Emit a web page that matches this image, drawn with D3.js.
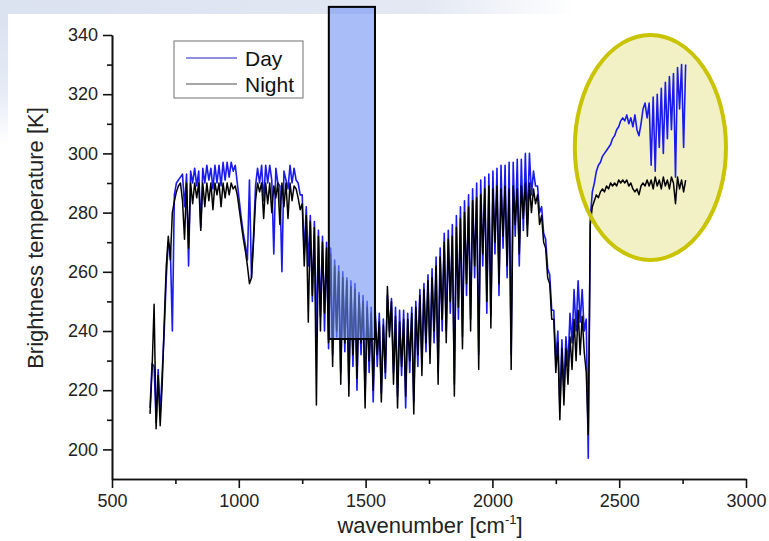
<!DOCTYPE html>
<html>
<head>
<meta charset="utf-8">
<script src="https://cdn.jsdelivr.net/npm/d3@7"></script>
<style>
  html, body { margin: 0; padding: 0; background: #fff; }
  svg { display: block; font-family: "Liberation Sans", Arial, sans-serif; }
</style>
</head>
<body>
<svg id="chart" width="769" height="541"></svg>
<script>
// Brightness temperature spectrum, sampled every 8 cm^-1
const wavenumber = [
  650,658,666,674,682,690,698,706,714,722,
  730,738,746,754,762,770,778,786,794,802,
  810,818,826,834,842,850,858,866,874,882,
  890,898,906,914,922,930,938,946,954,962,
  970,978,986,994,1002,1010,1018,1026,1034,1042,
  1050,1058,1066,1074,1082,1090,1098,1106,1114,1122,
  1130,1138,1146,1154,1162,1170,1178,1186,1194,1202,
  1210,1218,1226,1234,1242,1250,1258,1266,1274,1282,
  1290,1298,1306,1314,1322,1330,1338,1346,1354,1362,
  1370,1378,1386,1394,1402,1410,1418,1426,1434,1442,
  1450,1458,1466,1474,1482,1490,1498,1506,1514,1522,
  1530,1538,1546,1554,1562,1570,1578,1586,1594,1602,
  1610,1618,1626,1634,1642,1650,1658,1666,1674,1682,
  1690,1698,1706,1714,1722,1730,1738,1746,1754,1762,
  1770,1778,1786,1794,1802,1810,1818,1826,1834,1842,
  1850,1858,1866,1874,1882,1890,1898,1906,1914,1922,
  1930,1938,1946,1954,1962,1970,1978,1986,1994,2002,
  2010,2018,2026,2034,2042,2050,2058,2066,2074,2082,
  2090,2098,2106,2114,2122,2130,2138,2146,2154,2162,
  2170,2178,2186,2194,2202,2210,2218,2226,2234,2242,
  2250,2258,2266,2274,2282,2290,2298,2306,2314,2322,
  2330,2338,2346,2354,2362,2370,2378,2386,2394,2402,
  2410,2418,2426,2434,2442,2450,2458,2466,2474,2482,
  2490,2498,2506,2514,2522,2530,2538,2546,2554,2562,
  2570,2578,2586,2594,2602,2610,2618,2626,2634,2642,
  2650,2658,2666,2674,2682,2690,2698,2706,2714,2722,
  2730,2738,2746,2754,2762
];

// Daytime brightness temperature [K]
const dayTemp = [
  214,229,228,209,227,212,226,240,258,270,
  268,240,286,290,291,292,293,282,293,262,
  294,290,295,289,294,275,295,290,296,291,
  295,288,296,290,296,289,297,291,297,292,
  297,294,296,290,284,278,273,269,264,291,
  258,272,289,295,290,296,284,296,290,296,
  291,266,295,290,289,260,294,291,288,296,
  290,295,291,290,286,286,266,282,262,279,
  250,277,238,274,245,272,240,270,234,268,
  232,264,238,262,226,260,233,258,222,257,
  228,256,220,253,232,252,218,250,226,248,
  216,247,228,246,219,244,224,252,240,251,
  226,248,218,247,225,247,214,246,226,248,
  216,250,228,254,230,256,233,259,232,261,
  236,265,226,268,240,273,240,274,246,276,
  222,279,244,282,238,284,252,286,244,288,
  258,290,232,291,262,292,246,293,245,294,
  266,295,252,296,268,296,258,297,232,297,
  272,298,262,298,274,300,276,300,286,294,
  289,289,280,282,273,271,261,259,247,247,
  230,240,214,237,220,238,228,246,236,254,
  240,257,243,254,240,244,197,278,287,290,
  294,296,297,299,300,301,302,303,305,306,
  308,309,311,312,311,313,310,312,309,313,
  308,306,310,315,317,312,317,296,319,294,
  320,302,322,300,324,305,326,308,327,292,
  329,315,330,302,330
];

// Nighttime brightness temperature [K]
const nightTemp = [
  212,227,249,207,225,208,222,243,262,272,
  264,280,284,287,289,290,284,271,290,268,
  290,283,290,285,290,274,290,282,290,284,
  290,281,290,286,290,282,290,285,290,286,
  290,288,289,286,281,276,271,267,262,256,
  258,270,284,290,287,290,278,290,283,290,
  280,289,285,290,276,290,282,290,278,290,
  284,289,288,285,281,283,262,279,243,277,
  252,275,215,272,240,270,246,268,236,266,
  228,262,240,260,222,258,236,257,218,255,
  232,254,224,252,236,250,214,248,230,246,
  220,245,232,243,216,242,226,255,238,250,
  222,245,214,243,228,244,218,244,230,246,
  212,248,232,252,225,254,236,257,229,258,
  240,262,222,265,244,270,236,271,250,272,
  218,275,248,278,234,280,256,282,240,284,
  262,285,227,286,266,288,250,289,241,288,
  270,289,256,288,272,289,262,288,227,289,
  276,288,266,289,278,290,272,290,280,288,
  283,286,276,279,270,268,258,256,244,244,
  226,236,210,234,215,234,222,238,227,244,
  230,247,232,245,233,226,205,276,282,284,
  286,285,287,288,287,289,288,290,289,290,
  289,291,290,291,290,291,289,290,288,287,
  288,286,289,290,289,291,289,291,288,292,
  289,291,288,292,289,291,288,292,290,283,
  292,288,291,287,291
];

const seriesNames = ["Day", "Night"];
const xTicks = [500, 1000, 1500, 2000, 2500, 3000];
const xMinorTicks = [750, 1250, 1750, 2250, 2750];
const yTicks = [200, 220, 240, 260, 280, 300, 320, 340];
const yMinorTicks = [210, 230, 250, 270, 290, 310, 330];

// Highlighted spectral band (cm^-1 and K) and the highlighted CO2 4.3 µm wing
const bandBox = { from: 1355, to: 1537, low: 237.3, high: 349.5 };
const wingOval = { cx: 2623, cy: 302, rw: 298, rt: 38 };

const svg = d3.select("#chart");
const W = 769, H = 541;

const x = d3.scaleLinear().domain([500, 3000]).range([112, 746]);
const y = d3.scaleLinear().domain([190, 340]).range([479, 35]);

// slide background: pale bands along the top and left edges
const defs = svg.append("defs");
const gTop = defs.append("linearGradient").attr("id", "bandTop")
  .attr("x1", 0).attr("x2", 1).attr("y1", 0).attr("y2", 0);
gTop.append("stop").attr("offset", 0).attr("stop-color", "#dbe2f0");
gTop.append("stop").attr("offset", 0.55).attr("stop-color", "#e3e8f3");
gTop.append("stop").attr("offset", 0.75).attr("stop-color", "#ffffff");
const gLeft = defs.append("linearGradient").attr("id", "bandLeft")
  .attr("x1", 0).attr("x2", 0).attr("y1", 0).attr("y2", 1);
gLeft.append("stop").attr("offset", 0).attr("stop-color", "#dbe2f0");
gLeft.append("stop").attr("offset", 0.6).attr("stop-color", "#e6ebf5");
gLeft.append("stop").attr("offset", 1).attr("stop-color", "#ffffff");

svg.append("rect").attr("width", W).attr("height", H).attr("fill", "#fff");
svg.append("rect").attr("x", 0).attr("y", 0).attr("width", W).attr("height", 14).attr("fill", "url(#bandTop)");
svg.append("rect").attr("x", 0).attr("y", 14).attr("width", 8).attr("height", 130).attr("fill", "url(#bandLeft)");

// highlight oval geometry
const oval = {
  cx: x(wingOval.cx),
  cy: y(wingOval.cy),
  rx: x(wingOval.cx + wingOval.rw) - x(wingOval.cx),
  ry: y(wingOval.cy - wingOval.rt) - y(wingOval.cy)
};
svg.append("ellipse")
  .attr("cx", oval.cx).attr("cy", oval.cy).attr("rx", oval.rx).attr("ry", oval.ry)
  .attr("fill", "#f2f1c6");

// spectra: day first, night drawn over it
const line = d3.line()
  .x((d, i) => x(wavenumber[i]))
  .y(d => y(d));

svg.append("path").datum(dayTemp)
  .attr("d", line)
  .attr("fill", "none")
  .attr("stroke", "#1a1af0")
  .attr("stroke-width", 1.6)
  .attr("stroke-linejoin", "round");

svg.append("path").datum(nightTemp)
  .attr("d", line)
  .attr("fill", "none")
  .attr("stroke", "#000")
  .attr("stroke-width", 1.5)
  .attr("stroke-linejoin", "round");

// oval outline on top of the spectra
svg.append("ellipse")
  .attr("cx", oval.cx).attr("cy", oval.cy).attr("rx", oval.rx).attr("ry", oval.ry)
  .attr("fill", "none")
  .attr("stroke", "#c9c400")
  .attr("stroke-width", 4);

// highlight box over the band
svg.append("rect")
  .attr("x", x(bandBox.from))
  .attr("y", y(bandBox.high))
  .attr("width", x(bandBox.to) - x(bandBox.from))
  .attr("height", y(bandBox.low) - y(bandBox.high))
  .attr("fill", "rgb(112,145,245)")
  .attr("fill-opacity", 0.6)
  .attr("stroke", "#000")
  .attr("stroke-width", 2);

// axes
const tickFont = "18px";
const xAxis = svg.append("g").attr("transform", `translate(0,${y(190)})`)
  .call(d3.axisBottom(x).tickValues(xTicks).tickSize(9).tickSizeOuter(0).tickPadding(6).tickFormat(d3.format("d")));
const xMinor = svg.append("g").attr("transform", `translate(0,${y(190)})`)
  .call(d3.axisBottom(x).tickValues(xMinorTicks).tickSize(5).tickSizeOuter(0).tickFormat(""));
const yAxis = svg.append("g").attr("transform", `translate(${x(500)},0)`)
  .call(d3.axisLeft(y).tickValues(yTicks).tickSize(9).tickSizeOuter(0).tickPadding(5).tickFormat(d3.format("d")));
const yMinor = svg.append("g").attr("transform", `translate(${x(500)},0)`)
  .call(d3.axisLeft(y).tickValues(yMinorTicks).tickSize(5).tickSizeOuter(0).tickFormat(""));

[xAxis, xMinor, yAxis, yMinor].forEach(g => {
  g.selectAll(".domain").attr("stroke", "#111").attr("stroke-width", 1.6);
  g.selectAll(".tick line").attr("stroke", "#111").attr("stroke-width", 1.6);
  g.selectAll("text").attr("font-size", tickFont).attr("fill", "#222")
    .attr("font-family", "'Liberation Sans', Arial, sans-serif");
});

// axis titles
svg.append("text")
  .attr("transform", "translate(43,238) rotate(-90)")
  .attr("text-anchor", "middle")
  .attr("font-size", "22px")
  .attr("fill", "#222")
  .text("Brightness temperature [K]");

const xt = svg.append("text")
  .attr("x", 430).attr("y", 533)
  .attr("text-anchor", "middle")
  .attr("font-size", "22px")
  .attr("fill", "#222");
xt.append("tspan").text("wavenumber [cm");
xt.append("tspan").attr("dy", -9).attr("font-size", "13px").text("-1");
xt.append("tspan").attr("dy", 9).text("]");

// legend
const legend = svg.append("g");
legend.append("rect").attr("x", 174).attr("y", 41).attr("width", 129).attr("height", 57)
  .attr("fill", "#fff").attr("stroke", "#888").attr("stroke-width", 1.2);
const legendColors = ["#6a6ae0", "#888"];
seriesNames.forEach((name, i) => {
  const ly = 58 + i * 26;
  legend.append("line").attr("x1", 186).attr("x2", 237).attr("y1", ly).attr("y2", ly)
    .attr("stroke", legendColors[i]).attr("stroke-width", 1.5);
  legend.append("text").attr("x", 245).attr("y", ly + 8)
    .attr("font-size", "21px").attr("fill", "#111").text(name);
});
</script>
</body>
</html>
